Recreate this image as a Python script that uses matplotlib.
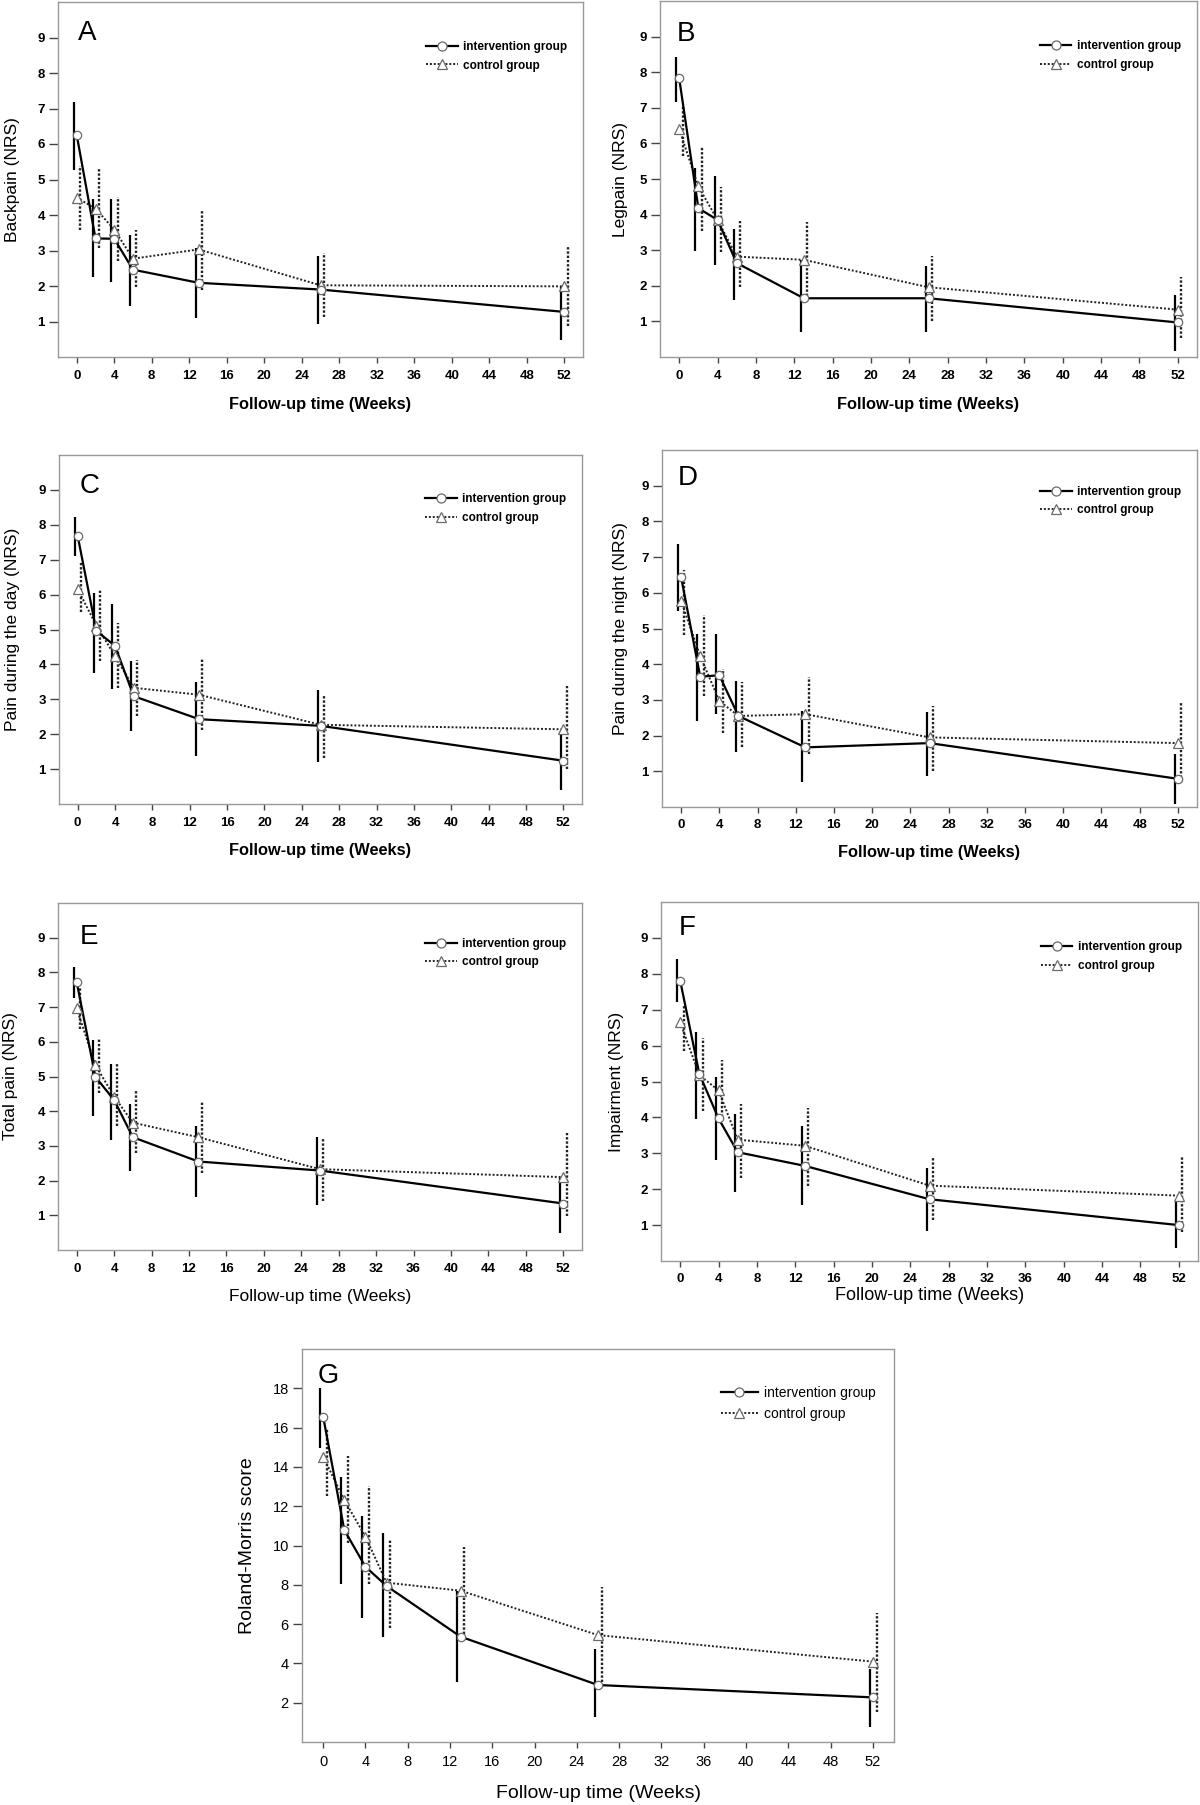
import matplotlib
matplotlib.use('Agg')
import matplotlib.pyplot as plt
from matplotlib.lines import Line2D
import numpy as np

# ---------------- data ----------------
weeks = [0, 2, 4, 6, 13, 26, 52]
xticks = list(range(0, 53, 4))

# Panel A - Backpain
A_int = [6.25, 3.34, 3.33, 2.46, 2.09, 1.90, 1.27]
A_int_hi = [7.19, 4.44, 4.46, 3.43, 3.06, 2.84, 1.99]
A_int_lo = [5.26, 2.24, 2.12, 1.45, 1.11, 0.94, 0.49]
A_ctl = [4.49, 4.18, 3.59, 2.77, 3.03, 2.02, 1.99]
A_ctl_hi = [5.38, 5.31, 4.51, 3.57, 4.15, 2.94, 3.12]
A_ctl_lo = [3.59, 3.06, 2.70, 1.98, 1.90, 1.13, 0.87]

# Panel B - Legpain
B_int = [7.83, 4.18, 3.85, 2.64, 1.65, 1.65, 0.97]
B_int_hi = [8.44, 5.30, 5.09, 3.59, 2.73, 2.56, 1.75]
B_int_lo = [7.17, 2.99, 2.59, 1.61, 0.69, 0.69, 0.16]
B_ctl = [6.40, 4.79, 3.85, 2.82, 2.73, 1.96, 1.33]
B_ctl_hi = [7.05, 5.91, 4.77, 3.81, 3.78, 2.84, 2.26]
B_ctl_lo = [5.65, 3.53, 2.94, 1.96, 1.70, 1.00, 0.53]

# Panel C - Pain during the day
C_int = [7.68, 4.96, 4.53, 3.09, 2.43, 2.24, 1.24]
C_int_hi = [8.23, 6.05, 5.73, 4.10, 3.49, 3.26, 2.08]
C_int_lo = [7.11, 3.74, 3.30, 2.08, 1.38, 1.21, 0.39]
C_ctl = [6.16, 5.11, 4.24, 3.33, 3.13, 2.27, 2.14]
C_ctl_hi = [6.93, 6.12, 5.18, 4.14, 4.16, 3.13, 3.38]
C_ctl_lo = [5.49, 4.10, 3.33, 2.53, 2.13, 1.31, 0.99]

# Panel D - Pain during the night
D_int = [6.44, 3.65, 3.69, 2.55, 1.67, 1.79, 0.79]
D_int_hi = [7.38, 4.84, 4.84, 3.53, 2.69, 2.65, 1.48]
D_int_lo = [5.49, 2.42, 2.60, 1.53, 0.69, 0.88, 0.09]
D_ctl = [5.77, 4.23, 2.97, 2.55, 2.60, 1.95, 1.79]
D_ctl_hi = [6.63, 5.39, 3.86, 3.49, 3.65, 2.83, 2.93]
D_ctl_lo = [4.81, 3.11, 2.07, 1.67, 1.48, 1.02, 0.69]

# Panel E - Total pain
E_int = [7.72, 4.99, 4.32, 3.25, 2.55, 2.29, 1.34]
E_int_hi = [8.16, 6.05, 5.36, 4.21, 3.56, 3.25, 2.07]
E_int_lo = [7.25, 3.86, 3.17, 2.29, 1.53, 1.31, 0.49]
E_ctl = [6.96, 5.33, 4.42, 3.67, 3.25, 2.33, 2.10]
E_ctl_hi = [7.56, 6.12, 5.38, 4.61, 4.28, 3.22, 3.37]
E_ctl_lo = [6.38, 4.52, 3.56, 2.79, 2.22, 1.40, 0.97]

# Panel F - Impairment
F_int = [7.81, 5.21, 3.97, 3.03, 2.65, 1.72, 1.00]
F_int_hi = [8.40, 6.39, 5.12, 4.09, 3.75, 2.58, 1.65]
F_int_lo = [7.21, 3.96, 2.82, 1.91, 1.56, 0.84, 0.35]
F_ctl = [6.65, 5.18, 4.75, 3.38, 3.21, 2.10, 1.82]
F_ctl_hi = [7.13, 6.20, 5.61, 4.37, 4.25, 2.89, 2.89]
F_ctl_lo = [5.86, 4.19, 3.91, 2.30, 2.10, 1.15, 0.80]

# Panel G - Roland-Morris score
G_int = [16.56, 10.79, 8.92, 7.94, 5.36, 2.90, 2.27]
G_int_hi = [18.00, 13.47, 11.50, 10.62, 7.70, 4.71, 3.70]
G_int_lo = [14.95, 8.04, 6.29, 5.36, 3.07, 1.25, 0.78]
G_ctl = [14.52, 12.32, 10.45, 8.11, 7.70, 5.44, 4.09]
G_ctl_hi = [16.00, 14.56, 13.03, 10.31, 9.94, 7.90, 6.55]
G_ctl_lo = [12.52, 10.11, 8.04, 5.78, 5.50, 3.07, 1.54]

letters = ['A', 'B', 'C', 'D', 'E', 'F', 'G']
ylabels = ['Backpain (NRS)', 'Legpain (NRS)', 'Pain during the day (NRS)',
           'Pain during the night (NRS)', 'Total pain (NRS)', 'Impairment (NRS)',
           'Roland-Morris score']
xlabel_text = 'Follow-up time (Weeks)'
legend_labels = ['intervention group', 'control group']
nrs_ticks = list(range(1, 10))
rm_ticks = list(range(2, 19, 2))

# ---------------- style / layout ----------------
FAM = ['Liberation Sans', 'DejaVu Sans']
W, H = 1200, 1805
fig = plt.figure(figsize=(W / 100, H / 100), dpi=100)

# pixel boxes: (left, right, top, bottom)
boxes = [(58, 583, 2, 357), (660, 1197, 1, 357),
         (59, 582, 455, 804), (662, 1197, 450, 807),
         (58, 582, 903, 1250), (661, 1198, 902, 1261),
         (302, 894, 1349, 1742)]
# y-label centre offset from left frame (px), x-label centre below bottom frame (px)
ylab_dx = [-45, -39, -46, -41, -47, -44, -55]
xlab_dy = [47, 47, 47, 45, 46, 35, 52]
xlab_weight = ['bold', 'bold', 'bold', 'bold', 'normal', 'normal', 'normal']
xlab_size = [11.8, 11.8, 11.8, 11.8, 12.5, 13.0, 14.0]
letter_pos = [(0.038, 0.95), (0.031, 0.944), (0.039, 0.948), (0.030, 0.958),
              (0.042, 0.94), (0.033, 0.964), (0.027, 0.964)]
legend_y = [0.89, 0.89, 0.89, 0.90, 0.90, 0.89, 0.905]

panels = [
    (A_int, A_int_lo, A_int_hi, A_ctl, A_ctl_lo, A_ctl_hi),
    (B_int, B_int_lo, B_int_hi, B_ctl, B_ctl_lo, B_ctl_hi),
    (C_int, C_int_lo, C_int_hi, C_ctl, C_ctl_lo, C_ctl_hi),
    (D_int, D_int_lo, D_int_hi, D_ctl, D_ctl_lo, D_ctl_hi),
    (E_int, E_int_lo, E_int_hi, E_ctl, E_ctl_lo, E_ctl_hi),
    (F_int, F_int_lo, F_int_hi, F_ctl, F_ctl_lo, F_ctl_hi),
    (G_int, G_int_lo, G_int_hi, G_ctl, G_ctl_lo, G_ctl_hi),
]

wk = np.array(weeks, dtype=float)
DOT = (0, (1.0, 1.0))
EDOT = (0, (1.0, 0.8))
MEC = '#6a6a6a'

for i, (box, dat) in enumerate(zip(boxes, panels)):
    l, r, t, b = box
    aw, ah = r - l, b - t
    ax = fig.add_axes([l / W, 1 - b / H, aw / W, ah / H])
    im, ilo, ihi, cm, clo, chi = dat
    isG = (i == 6)

    # control group
    ax.vlines(wk + 0.35, clo, chi, colors='#222222', linestyles=EDOT, lw=1.7, zorder=2)
    ax.plot(wk, cm, color='#222222', ls=DOT, lw=1.4, zorder=3)
    ax.plot(wk, cm, ls='none', marker='^', ms=6.5, mfc='white', mec=MEC, mew=0.9, zorder=5)
    # intervention group
    ax.vlines(wk - 0.3, ilo, ihi, colors='black', lw=1.6, zorder=2)
    ax.plot(wk, im, color='black', lw=1.6, zorder=4)
    ax.plot(wk, im, ls='none', marker='o', ms=6.0, mfc='white', mec=MEC, mew=0.9, zorder=6)

    ax.set_xlim(-2, 54)
    ax.set_xticks(xticks)
    if isG:
        ax.set_ylim(0, 20)
        ax.set_yticks(rm_ticks)
    else:
        ax.set_ylim(0, 10)
        ax.set_yticks(nrs_ticks)

    for s in ax.spines.values():
        s.set_color('#999999')
        s.set_linewidth(1.0)
    ax.tick_params(axis='x', direction='out', length=4, width=1.0, color='#444444',
                   top=False, pad=5)
    ax.tick_params(axis='y', direction='out', length=6.5, width=1.0, color='#444444',
                   right=False, pad=3)
    tw = 'normal' if isG else 'bold'
    tsz = 10.5 if isG else 9.5
    for lab in ax.get_xticklabels() + ax.get_yticklabels():
        lab.set_family(FAM)
        lab.set_fontweight(tw)
        lab.set_fontsize(tsz)

    # axis labels
    ysz = 14 if isG else 12.5
    ax.set_ylabel(ylabels[i], family=FAM, fontsize=ysz)
    ax.yaxis.label.set_verticalalignment('center')
    ax.yaxis.set_label_coords(ylab_dx[i] / aw, 0.5)
    ax.set_xlabel(xlabel_text, family=FAM, fontsize=xlab_size[i], fontweight=xlab_weight[i])
    ax.xaxis.label.set_verticalalignment('center')
    ax.xaxis.set_label_coords(0.5, -xlab_dy[i] / ah)

    # panel letter
    lx, ly = letter_pos[i]
    ax.text(lx, ly, letters[i], transform=ax.transAxes, ha='left', va='top',
            fontsize=19.5 if isG else 20, family=FAM)

    # legend
    handles = [Line2D([0], [0], color='black', lw=1.6, marker='o', ms=6.5,
                      mfc='white', mec=MEC, mew=0.9),
               Line2D([0], [0], color='#222222', lw=1.4, ls=DOT, marker='^', ms=6.5,
                      mfc='white', mec=MEC, mew=0.9)]
    lsz = 10 if isG else 8.5
    ax.legend(handles, legend_labels, loc='upper right',
              bbox_to_anchor=(0.97, legend_y[i]), frameon=False,
              borderaxespad=0, borderpad=0,
              handlelength=2.7, handletextpad=0.45,
              labelspacing=0.45 if isG else 0.55,
              prop=dict(family=FAM, size=lsz, weight='normal' if isG else 'bold'))

fig.savefig('out.png', dpi=100, facecolor='white')
